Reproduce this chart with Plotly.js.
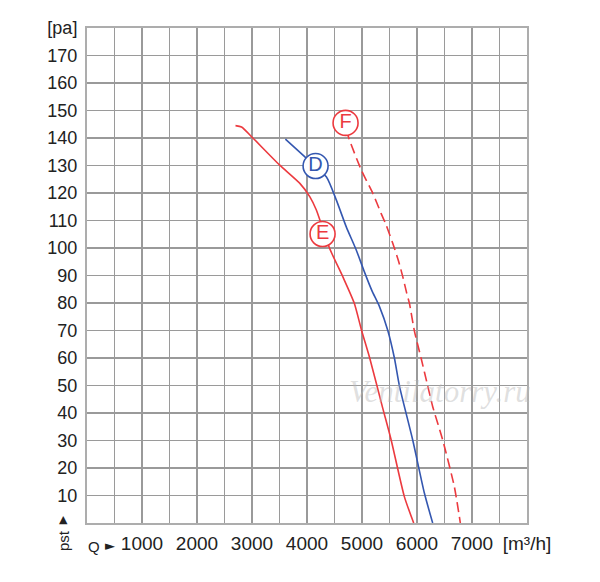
<!DOCTYPE html>
<html>
<head>
<meta charset="utf-8">
<script src="https://cdn.plot.ly/plotly-3.0.1.min.js"></script>
<style>
  html, body { margin: 0; padding: 0; background: #fff; }
  #chart { width: 600px; height: 582px; }
</style>
</head>
<body>
<div id="chart"></div>
<script>
// Courbes : Q [m3/h] / pst [pa]
const qE = [2700, 2810, 3020, 3500, 3870, 4050, 4170, 4410, 4650, 4860, 4990, 5140, 5378, 5530, 5770, 5940];
const pE = [144.5, 144.0, 139.9, 130.2, 123.5, 118.7, 113.8, 99.9, 89.6, 79.9, 70.2, 60.0, 41.7, 30.2, 9.6, 0];

const qD = [3607, 3957, 4351, 4532, 4714, 4895, 5040, 5180, 5318, 5469, 5590, 5681, 5922, 6135, 6285];
const pD = [139.6, 133.2, 125.9, 117.5, 107.7, 99.3, 91.5, 84.5, 78.7, 70.0, 59.9, 49.8, 30.2, 10.8, 0];

const qF = [4720, 4761, 4986, 5196, 5347, 5438, 5559, 5668, 5741, 5814, 5862, 5953, 6075, 6195, 6286, 6467, 6679, 6788];
const pF = [143, 139.9, 128.4, 119.9, 112.6, 108.4, 101.7, 95.0, 89.6, 83.5, 79.9, 69.8, 59.9, 49.8, 42.3, 30.2, 13.2, 0];

// étiquettes des courbes
const labelText = ['D', 'E', 'F'];
const labelQ = [4156, 4283, 4701];
const labelP = [129.8, 105.1, 145.5];

// graduations
const xTicks = [0, 500, 1000, 1500, 2000, 2500, 3000, 3500, 4000, 4500, 5000, 5500, 6000, 6500, 7000, 7500, 8000];
const xTickText = ['', '', '1000', '', '2000', '', '3000', '', '4000', '', '5000', '', '6000', '', '7000', '', '[m³/h]'];
const yTicks = [0, 10, 20, 30, 40, 50, 60, 70, 80, 90, 100, 110, 120, 130, 140, 150, 160, 170, 180];
const yTickText = ['', '10', '20', '30', '40', '50', '60', '70', '80', '90', '100', '110', '120', '130', '140', '150', '160', '170', '[pa]'];

const rouge = '#ec3a3f';
const bleu = '#3457b0';
const grille = '#9a9a9a';
const sans = 'Liberation Sans, Arial, sans-serif';

const data = [
    {
        x: qE, y: pE, mode: 'lines',
        line: { color: rouge, width: 1.6, shape: 'spline', smoothing: 0.6 },
        hoverinfo: 'skip'
    },
    {
        x: qD, y: pD, mode: 'lines',
        line: { color: bleu, width: 1.6, shape: 'spline', smoothing: 0.6 },
        hoverinfo: 'skip'
    },
    {
        x: qF, y: pF, mode: 'lines',
        line: { color: rouge, width: 1.6, dash: '10px,5px', shape: 'spline', smoothing: 0.6 },
        hoverinfo: 'skip'
    },
    {
        x: labelQ, y: labelP, text: labelText,
        mode: 'markers+text', textposition: 'middle center',
        marker: { symbol: 'circle', size: 25, color: '#fff', line: { color: [bleu, rouge, rouge], width: 1.6 } },
        textfont: { family: sans, size: 20, color: [bleu, rouge, rouge] },
        cliponaxis: false,
        hoverinfo: 'skip'
    }
];

function note(x, y, text, size, extra) {
    return Object.assign({
        xref: 'paper', yref: 'paper', x: x, y: y, text: text, showarrow: false,
        xanchor: 'center', yanchor: 'middle',
        font: { family: sans, size: size, color: '#222' }
    }, extra || {});
}

const layout = {
    width: 600, height: 582,
    margin: { l: 87, r: 73, t: 28, b: 59, pad: 0 },
    paper_bgcolor: '#fff', plot_bgcolor: '#fff',
    showlegend: false,
    xaxis: {
        range: [0, 8000], tickmode: 'array', tickvals: xTicks, ticktext: xTickText,
        showgrid: true, gridcolor: grille, gridwidth: 1.6,
        zeroline: false, showline: true, mirror: true, linecolor: '#adadad', linewidth: 2,
        ticks: '', ticklabelstandoff: 2,
        tickfont: { family: sans, size: 19, color: '#222' }, fixedrange: true
    },
    yaxis: {
        range: [0, 180], tickmode: 'array', tickvals: yTicks, ticktext: yTickText,
        showgrid: true, gridcolor: grille, gridwidth: 1.6,
        zeroline: false, showline: true, mirror: true, linecolor: '#adadad', linewidth: 2,
        ticks: '', ticklabelstandoff: 4,
        tickfont: { family: sans, size: 18, color: '#222' }, fixedrange: true
    },
    annotations: [
        note(0.0159, -0.0475, 'Q', 15),
        note(0.0523, -0.0454, '►', 13, { font: { family: 'DejaVu Sans, sans-serif', size: 13, color: '#222' } }),
        note(-0.0545, -0.0364, 'pst', 15, { textangle: -90 }),
        note(-0.0545, 0.008, '▲', 11, { font: { family: 'DejaVu Sans, sans-serif', size: 11, color: '#222' } }),
        // filigrane
        note(0.802, 0.265, '<i>Ventilatorry.ru</i>', 31,
            { font: { family: 'Liberation Serif, DejaVu Serif, serif', size: 31, color: 'rgba(185,185,185,0.45)' } })
    ]
};

Plotly.newPlot('chart', data, layout, { staticPlot: true, displayModeBar: false });
</script>
</body>
</html>
